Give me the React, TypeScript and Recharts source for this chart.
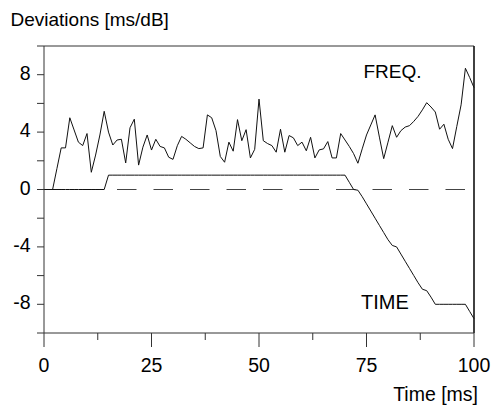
import { LineChart, Line, XAxis, YAxis, ReferenceLine } from "recharts";

// deviation per ms step (t = 0..100 ms)
const freqDev = [
  0, 0, 0, 1.45, 2.9, 2.9, 5.0, 4.15, 3.3, 3.06,
  3.9, 1.2, 2.4, 3.8, 5.45, 4.0, 3.1, 3.45, 3.5, 1.85,
  4.3, 4.9, 1.7, 2.95, 3.8, 2.75, 3.5, 3.0, 2.9, 2.25,
  2.1, 3.05, 3.7, 3.5, 3.25, 3.0, 2.85, 2.9, 5.2, 5.0,
  4.1, 2.3, 1.9, 3.3, 2.67, 4.87, 3.4, 4.17, 2.2, 2.8,
  6.3, 3.4, 3.2, 3.06, 2.6, 4.2, 2.6, 3.76, 3.6, 3.06,
  3.3, 2.7, 3.64, 2.2, 2.76, 2.83, 3.34, 2.2, 2.2, 3.9,
  3.45, 3.0, 2.5, 1.83, 2.83, 3.8, 4.5, 5.2, 3.65, 2.15,
  3.3, 4.45, 3.64, 4.1, 4.35, 4.45, 4.75, 5.1, 5.55, 6.05,
  5.75, 5.4, 4.2, 4.55, 3.5, 2.85, 4.4, 5.9, 8.45, 7.8,
  7.1,
];

const timeDev = [
  0, 0, 0, 0, 0, 0, 0, 0, 0, 0,
  0, 0, 0, 0, 0, 1, 1, 1, 1, 1,
  1, 1, 1, 1, 1, 1, 1, 1, 1, 1,
  1, 1, 1, 1, 1, 1, 1, 1, 1, 1,
  1, 1, 1, 1, 1, 1, 1, 1, 1, 1,
  1, 1, 1, 1, 1, 1, 1, 1, 1, 1,
  1, 1, 1, 1, 1, 1, 1, 1, 1, 1,
  1, 0.5, 0, -0.05, -0.5, -1, -1.5, -2, -2.5, -3,
  -3.5, -3.9, -4.0, -4.5, -5, -5.5, -6, -6.5, -6.95, -7.05,
  -7.5, -8, -8, -8, -8, -8, -8, -8, -8, -8.5,
  -9,
];

const xTicks = [0, 12.5, 25, 37.5, 50, 62.5, 75, 87.5, 100];
const xLabels = [0, 25, 50, 75, 100];
const yTicks = [-10, -8, -6, -4, -2, 0, 2, 4, 6, 8, 10];
const yLabels = [-8, -4, 0, 4, 8];

const data = freqDev.map((f, i) => ({ t: i, freq: f, time: timeDev[i] }));

const FONT = '"Liberation Sans", Arial, Helvetica, sans-serif';
const INK = "#111";
const AXIS = "#333";

const XTick = ({ x, y, payload }: { x: number; y: number; payload: { value: number } }) => {
  const major = xLabels.includes(payload.value);
  return (
    <g>
      <line x1={x} x2={x} y1={y} y2={y + (major ? 14 : 7)} stroke={AXIS} strokeWidth={1} />
      {major && (
        <text x={x} y={y + 39} textAnchor="middle" fontSize={19.5} fontFamily={FONT} fill="#000">
          {payload.value}
        </text>
      )}
    </g>
  );
};

const YTick = ({ x, y, payload }: { x: number; y: number; payload: { value: number } }) => {
  if (!yLabels.includes(payload.value)) return <g />;
  return (
    <text x={x} y={y + 5} textAnchor="end" fontSize={19.5} fontFamily={FONT} fill="#000">
      {payload.value}
    </text>
  );
};

export default function App() {
  return (
    <div style={{ position: "absolute", left: 0, top: 0, width: 492, height: 407, background: "#fff" }}>
      <LineChart width={492} height={407} data={data} margin={{ top: 46, right: 18, bottom: 0, left: 0 }}>
        <XAxis
          type="number"
          dataKey="t"
          domain={[0, 100]}
          ticks={xTicks}
          interval={0}
          height={74}
          tickLine={false}
          tickSize={0}
          tickMargin={0}
          axisLine={{ stroke: AXIS }}
          tick={XTick}
        />
        <YAxis
          type="number"
          domain={[-10, 10]}
          ticks={yTicks}
          interval={0}
          width={44}
          tickSize={7}
          tickMargin={6.5}
          tickLine={{ stroke: AXIS }}
          axisLine={{ stroke: AXIS }}
          tick={YTick}
        />
        <ReferenceLine y={10} stroke={AXIS} strokeWidth={1} />
        <ReferenceLine x={100} stroke={INK} strokeWidth={1.6} />
        <ReferenceLine y={0} stroke="#444" strokeWidth={1} strokeDasharray="19.5 17" />
        <Line type="linear" dataKey="time" stroke={INK} strokeWidth={1} dot={false} isAnimationActive={false} />
        <Line type="linear" dataKey="freq" stroke={INK} strokeWidth={1} dot={false} isAnimationActive={false} />
      </LineChart>
      <svg width={492} height={407} style={{ position: "absolute", left: 0, top: 0, pointerEvents: "none" }}>
        <text x={10.5} y={26} fontSize={19} fontFamily={FONT} fill="#000">
          Deviations [ms/dB]
        </text>
        <text x={363.5} y={77.5} fontSize={19} fontFamily={FONT} fill="#000">
          FREQ.
        </text>
        <text x={361} y={308.5} fontSize={20} fontFamily={FONT} fill="#000">
          TIME
        </text>
        <text x={478} y={401} textAnchor="end" fontSize={19.5} fontFamily={FONT} fill="#000">
          Time [ms]
        </text>
      </svg>
    </div>
  );
}
